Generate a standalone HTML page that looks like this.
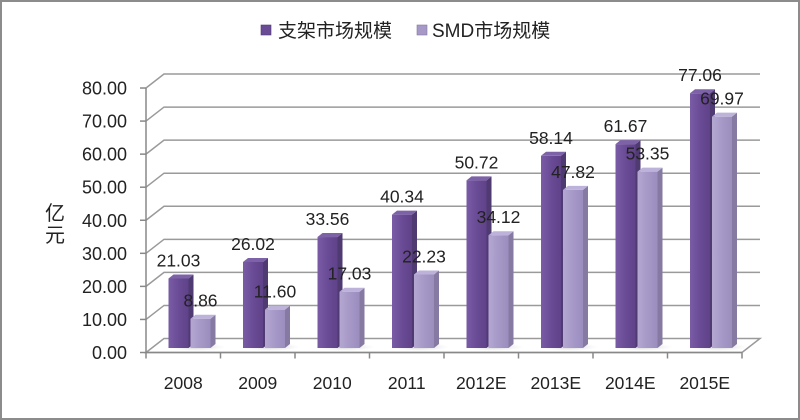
<!DOCTYPE html>
<html><head><meta charset="utf-8"><style>
html,body{margin:0;padding:0;background:#fff;}
svg{display:block;}
text{font-family:"Liberation Sans","Noto Sans CJK SC",sans-serif;fill:#222;}
</style></head><body>
<svg width="800" height="420" viewBox="0 0 800 420" xmlns="http://www.w3.org/2000/svg">
<defs>
<linearGradient id="dF" x1="0" x2="1" y1="0" y2="0"><stop offset="0" stop-color="#7a5ca6"/><stop offset="0.5" stop-color="#6a4b96"/><stop offset="1" stop-color="#5f4289"/></linearGradient>
<linearGradient id="lF" x1="0" x2="1" y1="0" y2="0"><stop offset="0" stop-color="#b4a8d2"/><stop offset="0.5" stop-color="#a698c7"/><stop offset="1" stop-color="#9b8dbd"/></linearGradient>
<radialGradient id="sh" cx="0.5" cy="0.5" r="0.5"><stop offset="0" stop-color="#bbb" stop-opacity="0.7"/><stop offset="1" stop-color="#ddd" stop-opacity="0"/></radialGradient>
</defs>
<rect x="1" y="1" width="798" height="418" fill="#fff" stroke="#8c8c8c" stroke-width="2"/>
<!-- legend -->
<rect x="261" y="25" width="10" height="10" fill="#6a4b96" stroke="#4f3a72" stroke-width="0.6"/>
<text x="278" y="37" font-size="19">支架市场规模</text>
<rect x="417" y="25" width="10" height="10" fill="#a698c7" stroke="#857aa0" stroke-width="0.6"/>
<text x="432" y="37" font-size="19">SMD市场规模</text>
<!-- y title -->
<text x="55" y="220" font-size="20" text-anchor="middle">亿</text>
<text x="55" y="242" font-size="20" text-anchor="middle">元</text>
<g id="grid" stroke="#9a9a9a" stroke-width="1.5" fill="none"></g>
<g id="floor"></g>
<g id="bars"></g>
<g id="axes" stroke="#888" stroke-width="1.5" fill="none"></g>
<g id="lbl"></g>
</svg>
<script>
(function(){
var NS="http://www.w3.org/2000/svg";
function el(p,t,a,txt){var e=document.createElementNS(NS,t);for(var k in a)e.setAttribute(k,a[k]);if(txt!=null)e.textContent=txt;document.getElementById(p).appendChild(e);return e;}
var d1=[21.03,26.02,33.56,40.34,50.72,58.14,61.67,77.06];
var d2=[8.86,11.60,17.03,22.23,34.12,47.82,53.35,69.97];
var cats=["2008","2009","2010","2011","2012E","2013E","2014E","2015E"];
var S=3.306,B=348,Y0=352.5,step=33.06,cw=74.5,X0=146;
// grid
for(var k=0;k<=8;k++){var y=Y0-step*k;
 if(k>0) el("grid","polyline",{points:X0+","+y+" "+(X0+18)+","+(y-14)+" 760,"+(y-14)});
 el("lbl","text",{x:127,y:y+6.5,"font-size":18,"text-anchor":"end"},(k*10).toFixed(2));
 el("axes","line",{x1:140,y1:y,x2:X0,y2:y});
}
// floor
el("floor","polygon",{points:X0+","+Y0+" 742,"+Y0+" 760,"+(Y0-14)+" "+(X0+18)+","+(Y0-14),fill:"#fff",stroke:"#9a9a9a","stroke-width":1.5});
for(var i=0;i<8;i++){var x0=X0+cw*i;
 el("floor","ellipse",{cx:x0+50,cy:B-1,rx:30,ry:4,fill:"url(#sh)"});}
el("axes","line",{x1:X0,y1:Y0-step*8,x2:X0,y2:Y0});
el("axes","line",{x1:X0,y1:Y0,x2:742,y2:Y0});
for(var k=0;k<=8;k++){var x=X0+cw*k;el("axes","line",{x1:x,y1:Y0,x2:x,y2:Y0+6});}
function bar(x,v,front,side,top){
 var t=B-v*S,w=20,dx=5,dy=4;
 el("bars","polygon",{points:(x+w)+","+t+" "+(x+w+dx)+","+(t-dy)+" "+(x+w+dx)+","+(B-dy)+" "+(x+w)+","+B,fill:side});
 el("bars","rect",{x:x,y:t,width:w,height:B-t,fill:front});
 el("bars","polygon",{points:x+","+t+" "+(x+dx)+","+(t-dy)+" "+(x+w+dx)+","+(t-dy)+" "+(x+w)+","+t,fill:top});
}
for(var i=0;i<8;i++){var x0=X0+cw*i;
 bar(x0+22.5,d1[i],"url(#dF)","#4f3a72","#7d62a8");
 bar(x0+44.5,d2[i],"url(#lF)","#867aa3","#bdb2d9");
 el("lbl","text",{x:x0+37.25,y:389,"font-size":17.5,"text-anchor":"middle"},cats[i]);
}
for(var i=0;i<8;i++){var x0=X0+cw*i;
 el("lbl","text",{x:x0+32.5,y:B-d1[i]*S-12,"font-size":17.5,"text-anchor":"middle"},d1[i].toFixed(2));
 el("lbl","text",{x:x0+54.5,y:B-d2[i]*S-12,"font-size":17.5,"text-anchor":"middle"},d2[i].toFixed(2));
}
})();
</script>
</body></html>
